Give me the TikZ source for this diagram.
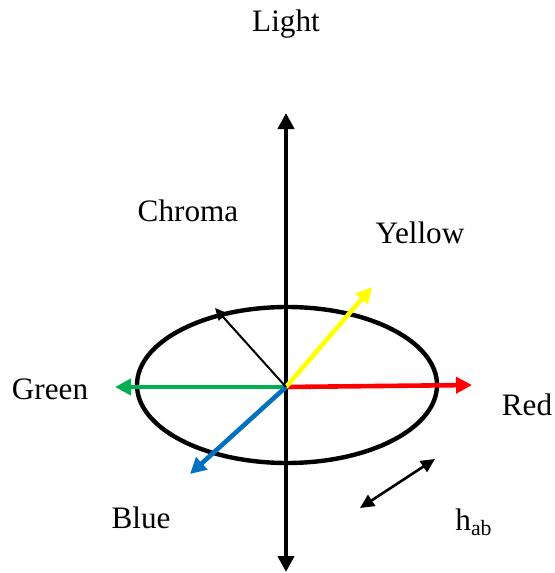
\documentclass[tikz,border=0pt]{standalone}
\usepackage{fontspec}
\setmainfont{Liberation Serif}
\usetikzlibrary{arrows.meta}
\definecolor{cred}{RGB}{255,0,0}
\definecolor{cyellow}{RGB}{255,255,0}
\definecolor{cgreen}{RGB}{0,176,80}
\definecolor{cblue}{RGB}{0,112,192}

\begin{document}
\begin{tikzpicture}[x=0.5pt, y=-0.5pt,
    lbl/.style={font=\fontsize{15.6}{18}\selectfont, inner sep=0pt},
    axe/.style={line width=2.1pt, {Triangle[length=8pt, width=8pt]}-{Triangle[length=8pt, width=8pt]}},
    teinte/.style={line width=2.3pt, -{Triangle[length=8pt, width=8pt]}},
    fin/.style={line width=1pt, -{Triangle[length=6pt, width=5.5pt]}},
    angle/.style={line width=1.3pt, {Triangle[length=7pt, width=6.5pt]}-{Triangle[length=7pt, width=6.5pt]}}]

  \useasboundingbox (0,0) rectangle (554,573);

  \coordinate (o) at (286,387);
  \coordinate (haut) at (286,113);
  \coordinate (bas) at (286,572);
  \coordinate (r) at (472,385);
  \coordinate (g) at (115,387);
  \coordinate (y) at (372,287);
  \coordinate (b) at (190,474);
  \coordinate (c) at (215,308);
  \coordinate (h1) at (360,508);
  \coordinate (h2) at (435,459);

  \draw[line width=2.2pt] (287,385) ellipse [x radius=75pt, y radius=39pt];
  \draw[axe] (bas) -- (haut);

  \draw[teinte, cgreen] (o) -- (g);
  \draw[teinte, cred] (o) -- (r);
  \draw[teinte, cyellow] (o) -- (y);
  \draw[teinte, cblue] (o) -- (b);
  \draw[fin] (o) -- (c);
  \draw[angle] (h1) -- (h2);

  \node[lbl] (light) at (286,24) {Light};
  \node[lbl] (chroma) at (188,211) {Chroma};
  \node[lbl] (yellow) at (420,233) {Yellow};
  \node[lbl] (green) at (50,389) {Green};
  \node[lbl] (red) at (527,405) {Red};
  \node[lbl] (blue) at (141,518) {Blue};
  \node[lbl, anchor=west] (hab) at (455,522) {h\textsubscript{ab}};
\end{tikzpicture}
\end{document}
